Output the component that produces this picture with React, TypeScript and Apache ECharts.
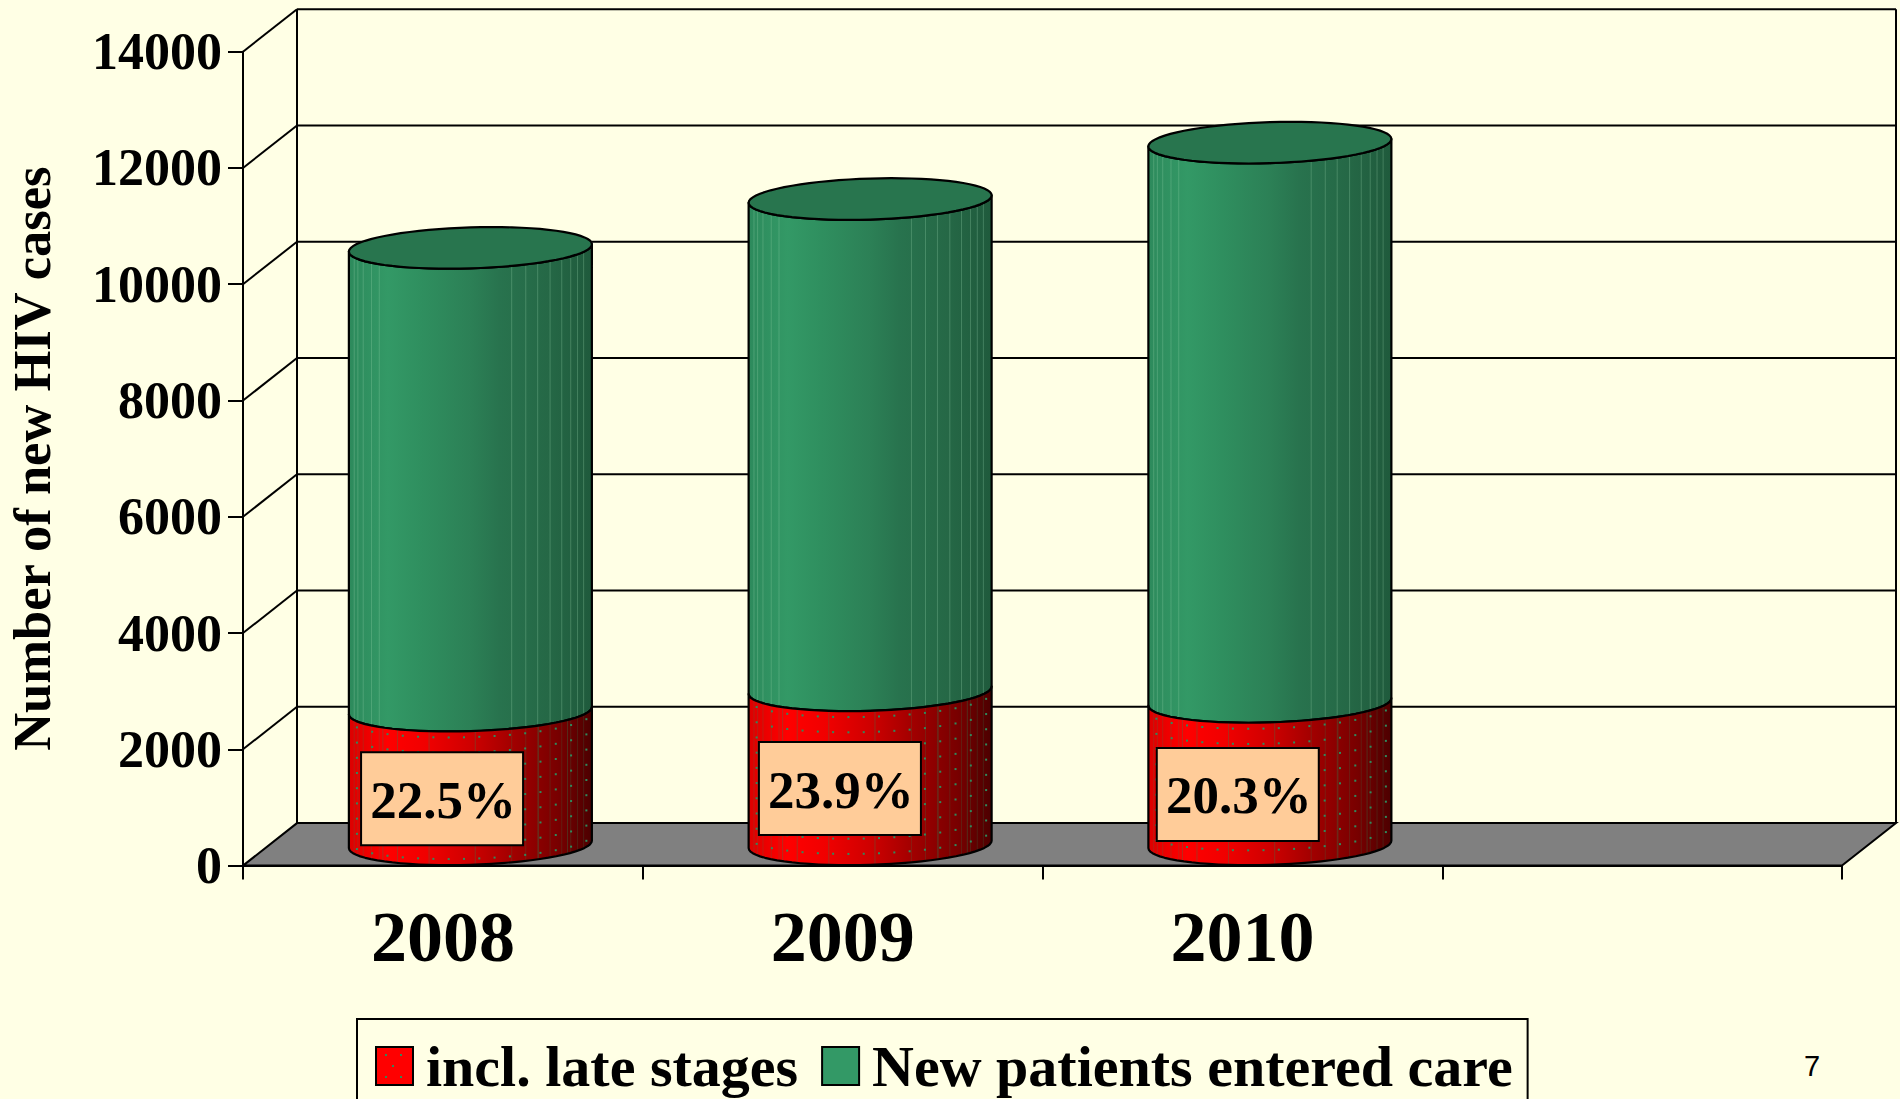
import React, { useEffect, useRef } from "react";
import * as echarts from "echarts";

const categories = ["2008", "2009", "2010", ""];
const yTicks = [0, 2000, 4000, 6000, 8000, 10000, 12000, 14000];
const lateStages = [2300, 2650, 2450];
const enteredCare = [7960, 8450, 9620];
const percentLabels = ["22.5%", "23.9%", "20.3%"];
const legendNames = ["incl. late stages", "New patients entered care"];

const stripeFractions = [0.022, 0.037, 0.059, 0.093, 0.125, 0.67, 0.728, 0.777, 0.828, 0.876, 0.913, 0.941, 0.966];
const redGridFractions = [0.14, 0.2, 0.33, 0.52, 0.78, 0.9];
const legendDots = [[385, 1054], [400, 1054], [392, 1065], [385, 1076], [400, 1076]];

const BG = "#FFFFE5";
const FONT = '"Liberation Serif", serif';
const DEPTH_X = 54;
const DEPTH_Y = 42.5;
const RX = 121.5;
const RY = 20.5;
const SKEW = 3.7;

const greenStops = [
  { offset: 0, color: "#2d8a5c" },
  { offset: 0.16, color: "#339966" },
  { offset: 0.3, color: "#2f8f5f" },
  { offset: 0.5, color: "#2c8056" },
  { offset: 0.62, color: "#28734e" },
  { offset: 0.82, color: "#256846" },
  { offset: 1, color: "#1f5a3c" },
];
const redStops = [
  { offset: 0, color: "#dc0000" },
  { offset: 0.16, color: "#ff0000" },
  { offset: 0.32, color: "#f00000" },
  { offset: 0.5, color: "#cf0000" },
  { offset: 0.68, color: "#a00000" },
  { offset: 0.86, color: "#780000" },
  { offset: 1, color: "#4c0000" },
];

function curve(cx: number, cy: number, from: number, to: number, steps = 36) {
  const pts: number[][] = [];
  for (let i = 0; i <= steps; i++) {
    const t = from + ((to - from) * i) / steps;
    pts.push([cx + RX * Math.cos(t), cy + RY * Math.sin(t) - SKEW * Math.cos(t)]);
  }
  return pts;
}

function frontY(cx: number, cy: number, x: number) {
  const c = Math.max(-1, Math.min(1, (x - cx) / RX));
  return cy + RY * Math.sqrt(1 - c * c) - SKEW * c;
}

function cylinder(api: any, isRed: boolean, pctIndex: number) {
  const idx = api.value(0);
  const base = api.value(1);
  const top = api.value(2);
  const pBase = api.coord([idx, base]);
  const pTop = api.coord([idx, top]);
  const cx = pBase[0] + DEPTH_X / 2 + 0.5;
  const yb = pBase[1] - DEPTH_Y / 2;
  const yt = pTop[1] - DEPTH_Y / 2;
  const body = [...curve(cx, yt, Math.PI, 0), ...curve(cx, yb, 0, Math.PI)];
  const children: any[] = [
    {
      type: "polygon",
      shape: { points: body },
      style: {
        fill: new echarts.graphic.LinearGradient(0, 0, 1, 0, isRed ? redStops : greenStops),
        stroke: "none",
      },
    },
  ];
  stripeFractions.forEach((f) => {
    const x = cx - RX + 2 * RX * f;
    children.push({
      type: "line",
      shape: { x1: x, y1: frontY(cx, yt, x), x2: x, y2: frontY(cx, yb, x) },
      style: { stroke: isRed ? "rgba(50,130,80,0.22)" : "rgba(150,210,170,0.3)", lineWidth: 1 },
    });
  });
  if (isRed) {
    redGridFractions.forEach((f) => {
      const x = cx - RX + 2 * RX * f;
      children.push({
        type: "line",
        shape: { x1: x, y1: frontY(cx, yt, x), x2: x, y2: frontY(cx, yb, x) },
        style: { stroke: "rgba(50,130,80,0.35)", lineWidth: 1 },
      });
    });
    for (let row = 0; row < 12; row++) {
      const rowOffset = 6 + row * 15.2;
      for (let col = 0; col < 16; col++) {
        const x = cx - RX + 8 + col * 15.3;
        const y0 = frontY(cx, yt, x);
        const y = y0 + rowOffset;
        if (y < frontY(cx, yb, x) - 2) {
          children.push({
            type: "rect",
            shape: { x: x - 1, y: y - 1, width: 2, height: 2 },
            style: { fill: "#2f8a5c" },
          });
        }
      }
    }
  }
  children.push({
    type: "polygon",
    shape: { points: body },
    style: { fill: "none", stroke: "#000", lineWidth: 2.2, lineJoin: "round" },
  });
  if (!isRed) {
    children.push({
      type: "polygon",
      shape: { points: curve(cx, yt, 0, Math.PI * 2, 72) },
      style: { fill: "#28754E", stroke: "#000", lineWidth: 2.2 },
    });
  }
  if (isRed) {
    const mid = api.coord([idx, top / 2]);
    const bw = 162;
    const bh = 93;
    const labelX = mid[0] - 0.8 - idx * 1.9;
    children.push({
      type: "rect",
      shape: { x: labelX - bw / 2, y: mid[1] - bh / 2, width: bw, height: bh },
      style: { fill: "#FFCC99", stroke: "#000", lineWidth: 2 },
    });
    children.push({
      type: "text",
      style: {
        x: labelX + 1,
        y: mid[1] + 1,
        text: percentLabels[pctIndex],
        fill: "#000",
        font: `bold 53px ${FONT}`,
        align: "center",
        verticalAlign: "middle",
      },
    });
  }
  return { type: "group", children };
}

function renderFrame(_params: any, api: any) {
  const v = api.value(1);
  const band = api.size([1, 0])[0];
  const left = api.coord([0, v])[0] - band / 2;
  const right = api.coord([categories.length - 1, v])[0] + band / 2;
  const y = api.coord([0, v])[1];
  const children: any[] = [];
  const lineStyle = { stroke: "#000", lineWidth: 2 };
  if (v === 0) {
    const top = api.coord([0, yTicks[yTicks.length - 1]])[1];
    children.push({
      type: "polygon",
      shape: {
        points: [
          [left, y],
          [right, y],
          [right + DEPTH_X, y - DEPTH_Y],
          [left + DEPTH_X, y - DEPTH_Y],
        ],
      },
      style: { fill: "#808080", stroke: "#000", lineWidth: 2 },
    });
    children.push({
      type: "line",
      shape: { x1: left + DEPTH_X, y1: y - DEPTH_Y, x2: left + DEPTH_X, y2: top - DEPTH_Y },
      style: lineStyle,
    });
    children.push({
      type: "line",
      shape: { x1: right + DEPTH_X, y1: y - DEPTH_Y, x2: right + DEPTH_X, y2: top - DEPTH_Y },
      style: lineStyle,
    });
  } else {
    children.push({
      type: "line",
      shape: { x1: left, y1: y, x2: left + DEPTH_X, y2: y - DEPTH_Y },
      style: lineStyle,
    });
    children.push({
      type: "line",
      shape: { x1: left + DEPTH_X, y1: y - DEPTH_Y, x2: right + DEPTH_X, y2: y - DEPTH_Y },
      style: lineStyle,
    });
  }
  return { type: "group", children };
}

export default function App() {
  const ref = useRef<HTMLDivElement>(null);
  useEffect(() => {
    if (!ref.current) return;
    const chart = echarts.init(ref.current, null, { renderer: "svg" });
    chart.setOption({
      animation: false,
      backgroundColor: BG,
      grid: { left: 243, right: 58, top: 51.7, bottom: 233.4, containLabel: false, outerBoundsMode: "none" },
      xAxis: {
        type: "category",
        data: categories,
        axisLine: { lineStyle: { color: "#000", width: 2 } },
        axisTick: { show: true, length: 14, lineStyle: { color: "#000", width: 2 } },
        axisLabel: { color: "#000", fontFamily: FONT, fontWeight: "bold", fontSize: 72, margin: 35, interval: 0 },
        splitLine: { show: false },
      },
      yAxis: {
        type: "value",
        min: 0,
        max: 14000,
        interval: 2000,
        name: "Number of new HIV cases",
        nameLocation: "middle",
        nameRotate: 90,
        nameGap: 185,
        nameTextStyle: { color: "#000", fontFamily: FONT, fontWeight: "bold", fontSize: 52.5 },
        axisLine: { show: true, lineStyle: { color: "#000", width: 2 } },
        axisTick: { show: true, length: 15, lineStyle: { color: "#000", width: 2 } },
        axisLabel: {
          color: "#000",
          fontFamily: FONT,
          fontWeight: "bold",
          fontSize: 52,
          margin: 21,
          padding: [0, 0, 8, 0],
          formatter: (v: number) => String(v),
        },
        splitLine: { show: false },
      },
      legend: {
        left: 357,
        top: 1019,
        orient: "horizontal",
        padding: [18, 15, 60, 18],
        itemWidth: 37,
        itemHeight: 38,
        itemGap: 23,
        backgroundColor: BG,
        borderColor: "#000",
        borderWidth: 2,
        selectedMode: false,
        textStyle: { color: "#000", fontFamily: FONT, fontWeight: "bold", fontSize: 58, padding: [0, 0, 0, 8] },
        data: [
          { name: legendNames[0], icon: "rect", itemStyle: { color: "#ff0000", borderColor: "#000", borderWidth: 2 } },
          { name: legendNames[1], icon: "rect", itemStyle: { color: "#339966", borderColor: "#000", borderWidth: 2 } },
        ],
      },
      graphic: [
        {
          type: "text",
          z: 100,
          style: { x: 1812, y: 1066, text: "7", fill: "#000", font: '29px "Liberation Sans", sans-serif', align: "center", verticalAlign: "middle" },
        },
        ...legendDots.map(([x, y]) => ({
          type: "rect",
          z: 100,
          shape: { x, y, width: 2, height: 2 },
          style: { fill: "#2f8a5c" },
        })),
      ],
      series: [
        {
          type: "custom",
          name: "frame",
          renderItem: renderFrame,
          data: yTicks.map((v) => [0, v]),
          encode: { x: 0, y: 1 },
          clip: false,
          silent: true,
          z: 1,
        },
        {
          type: "custom",
          name: legendNames[0],
          renderItem: (params: any, api: any) => cylinder(api, true, params.dataIndex),
          data: lateStages.map((v, i) => [i, 0, v]),
          encode: { x: 0, y: 2 },
          clip: false,
          silent: true,
          itemStyle: { color: "#ff0000" },
          z: 3,
        },
        {
          type: "custom",
          name: legendNames[1],
          renderItem: (params: any, api: any) => cylinder(api, false, params.dataIndex),
          data: enteredCare.map((v, i) => [i, lateStages[i], lateStages[i] + v]),
          encode: { x: 0, y: 2 },
          clip: false,
          silent: true,
          itemStyle: { color: "#339966" },
          z: 2,
        },
      ],
    });
    return () => chart.dispose();
  }, []);
  return <div ref={ref} style={{ position: "fixed", left: 0, top: 0, width: 1900, height: 1099 }} />;
}
